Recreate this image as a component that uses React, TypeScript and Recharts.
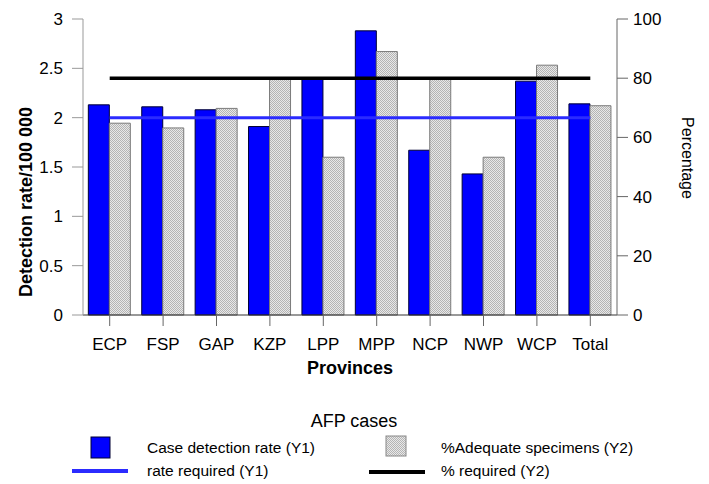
import { ComposedChart, Bar, Line, XAxis, YAxis } from 'recharts'

const FONT = '"Liberation Sans", Arial, sans-serif'

const provinces = ['ECP', 'FSP', 'GAP', 'KZP', 'LPP', 'MPP', 'NCP', 'NWP', 'WCP', 'Total']
const detectionRate = [2.13, 2.11, 2.08, 1.91, 2.39, 2.88, 1.67, 1.43, 2.37, 2.14]
const adequateSpecimens = [64.8, 63.2, 69.8, 80.2, 53.3, 89, 80, 53.3, 84.4, 70.7]
const rateRequired = [2, 2, 2, 2, 2, 2, 2, 2, 2, 2]
const pctRequired = [80, 80, 80, 80, 80, 80, 80, 80, 80, 80]
const rateTicks = [0, 0.5, 1, 1.5, 2, 2.5, 3]
const pctTicks = [0, 20, 40, 60, 80, 100]

const data = provinces.map((name, i) => ({
  name,
  rate: detectionRate[i],
  adequate: adequateSpecimens[i],
  rateReq: rateRequired[i],
  pctReq: pctRequired[i],
}))

// axis title drawn from the axis viewBox
function axisTitle(
  text: string,
  pos: (vb: any) => { x: number; y: number },
  angle: number,
  size: number,
  bold = false
) {
  return (props: any) => {
    const { x, y } = pos(props.viewBox)
    return (
      <text
        x={x}
        y={y}
        dy={angle ? '0.35em' : 0}
        textAnchor="middle"
        transform={angle ? `rotate(${angle}, ${x}, ${y})` : undefined}
        fontFamily={FONT}
        fontSize={size}
        fontWeight={bold ? 'bold' : 'normal'}
        fill="#000"
      >
        {text}
      </text>
    )
  }
}

const tickStyle = { fontSize: 17, fill: '#000', fontFamily: FONT }

function Legend() {
  return (
    <svg
      width={709}
      height={484}
      style={{ position: 'absolute', left: 0, top: 0, pointerEvents: 'none' }}
    >
      <text x={354} y={427} textAnchor="middle" fontFamily={FONT} fontSize={18} fill="#000">
        AFP cases
      </text>
      <rect x={91} y={437} width={19} height={21} fill="#0000ff" stroke="#000033" />
      <text x={147} y={453} fontFamily={FONT} fontSize={15.5} fill="#000">
        Case detection rate (Y1)
      </text>
      <line x1={72} x2={128} y1={471} y2={471} stroke="#2b2bff" strokeWidth={4} />
      <text x={147} y={476} fontFamily={FONT} fontSize={15.5} fill="#000">
        rate required (Y1)
      </text>
      <rect x={386} y={436} width={20} height={20} fill="url(#legendDots)" stroke="#888" />
      <defs>
        <pattern id="legendDots" width="2" height="2" patternUnits="userSpaceOnUse">
          <rect width="2" height="2" fill="#e8e8e8" />
          <rect width="1" height="1" fill="#b4b4b4" />
          <rect x="1" y="1" width="1" height="1" fill="#b4b4b4" />
        </pattern>
      </defs>
      <text x={441} y={453} fontFamily={FONT} fontSize={15.5} fill="#000">
        %Adequate specimens (Y2)
      </text>
      <line x1={369} x2={425} y1={472} y2={472} stroke="#000" strokeWidth={4} />
      <text x={441} y={476} fontFamily={FONT} fontSize={15.5} fill="#000">
        % required (Y2)
      </text>
    </svg>
  )
}

export default function App() {
  return (
    <div style={{ position: 'absolute', left: 0, top: 0, width: 709, height: 484, background: '#fff' }}>
      <ComposedChart
        width={709}
        height={484}
        data={data}
        margin={{ top: 19, right: 0, bottom: 109, left: 0 }}
        barCategoryGap="10%"
        barGap={0}
      >
        <defs>
          <pattern id="dots" width="2" height="2" patternUnits="userSpaceOnUse">
            <rect width="2" height="2" fill="#e8e8e8" />
            <rect width="1" height="1" fill="#b4b4b4" />
            <rect x="1" y="1" width="1" height="1" fill="#b4b4b4" />
          </pattern>
        </defs>
        <XAxis
          dataKey="name"
          height={60}
          interval={0}
          tick={tickStyle}
          tickSize={11}
          tickMargin={12}
          axisLine={{ stroke: '#333' }}
          tickLine={{ stroke: '#666' }}
          label={{
            content: axisTitle('Provinces', (vb) => ({ x: vb.x + vb.width / 2, y: vb.y + 59 }), 0, 18, true),
          }}
        />
        <YAxis
          yAxisId="rate"
          orientation="left"
          width={83}
          domain={[0, 3]}
          ticks={rateTicks}
          interval={0}
          tick={tickStyle}
          tickSize={11}
          tickMargin={9}
          axisLine={{ stroke: '#999' }}
          tickLine={{ stroke: '#999' }}
          label={{
            content: axisTitle(
              'Detection rate/100 000',
              (vb) => ({ x: vb.x + 26, y: vb.y + vb.height / 2 + 35 }),
              -90,
              18,
              true
            ),
          }}
        />
        <YAxis
          yAxisId="pct"
          orientation="right"
          width={92}
          domain={[0, 100]}
          ticks={pctTicks}
          interval={0}
          tick={tickStyle}
          tickSize={11}
          tickMargin={5}
          axisLine={{ stroke: '#666' }}
          tickLine={{ stroke: '#666' }}
          label={{
            content: axisTitle(
              'Percentage',
              (vb) => ({ x: vb.x + 71, y: vb.y + vb.height / 2 - 9 }),
              90,
              16
            ),
          }}
        />
        <Bar
          yAxisId="rate"
          dataKey="rate"
          name="Case detection rate (Y1)"
          fill="#0000ff"
          stroke="#000033"
          strokeWidth={1}
          isAnimationActive={false}
        />
        <Bar
          yAxisId="pct"
          dataKey="adequate"
          name="%Adequate specimens (Y2)"
          fill="url(#dots)"
          stroke="#7a7a7a"
          strokeWidth={1}
          isAnimationActive={false}
        />
        <Line
          yAxisId="rate"
          type="linear"
          dataKey="rateReq"
          name="rate required (Y1)"
          stroke="#2b2bff"
          strokeWidth={3}
          dot={false}
          activeDot={false}
          isAnimationActive={false}
        />
        <Line
          yAxisId="pct"
          type="linear"
          dataKey="pctReq"
          name="% required (Y2)"
          stroke="#000"
          strokeWidth={3.5}
          dot={false}
          activeDot={false}
          isAnimationActive={false}
        />
      </ComposedChart>
      <Legend />
    </div>
  )
}
